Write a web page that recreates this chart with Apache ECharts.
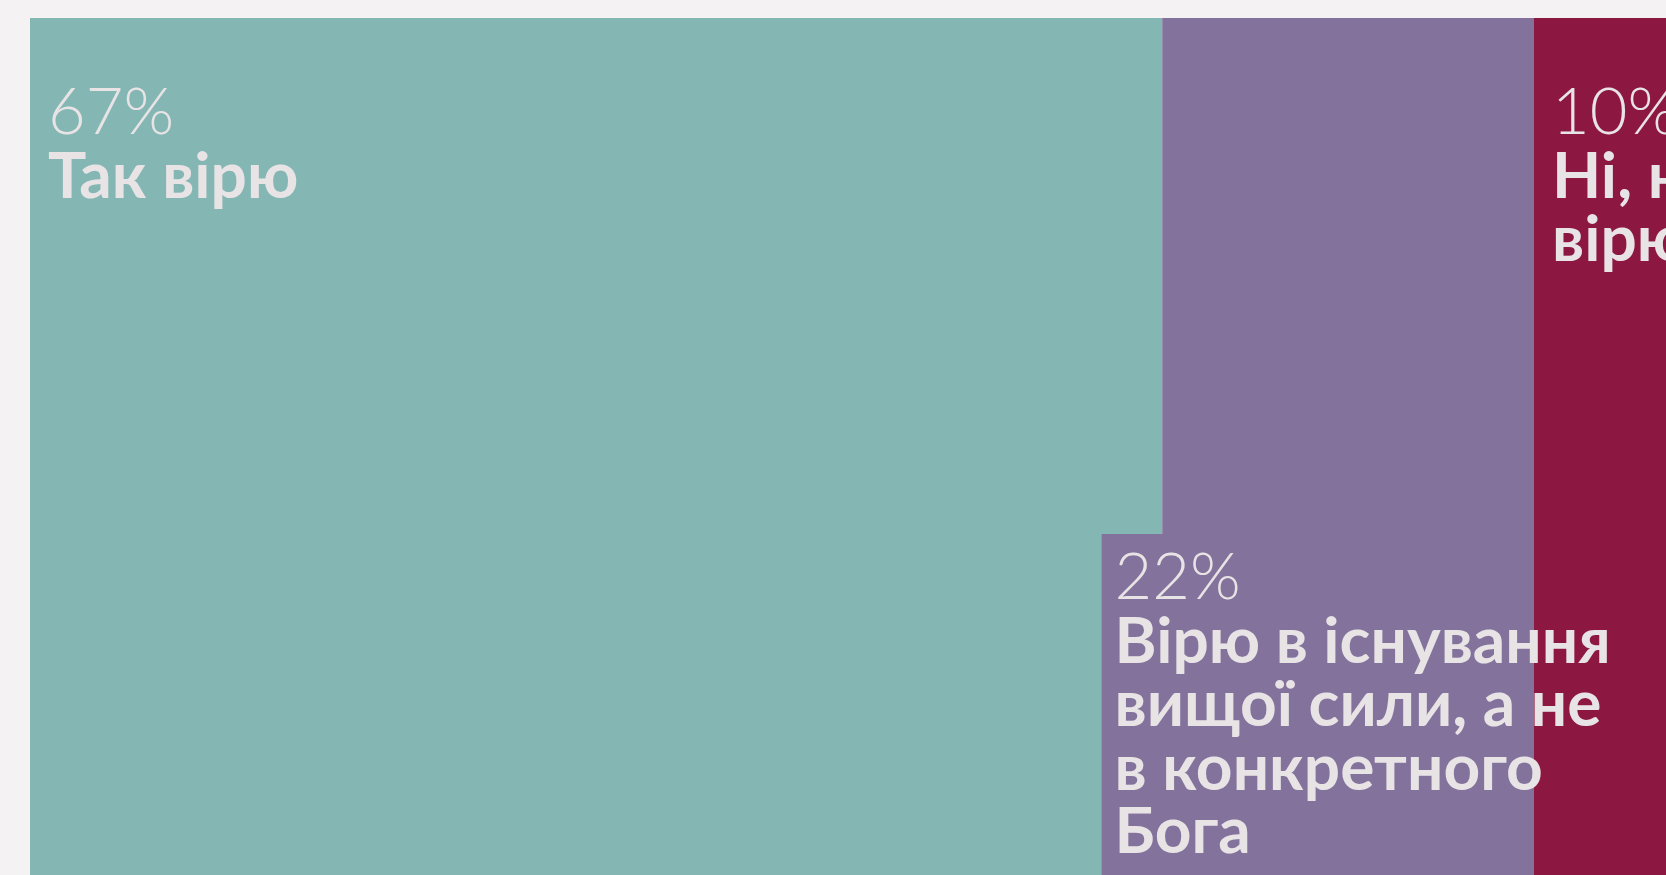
<!DOCTYPE html>
<html>
<head>
<meta charset="utf-8">
<title>Чи вірите ви в Бога</title>
<script src="https://cdn.jsdelivr.net/npm/echarts@6/dist/echarts.min.js"></script>
<style>
  html, body {
    margin: 0;
    padding: 0;
    overflow: hidden;
    background: #f4f2f3;
  }
  #chart {
    width: 1703px;
    height: 875px;
  }
</style>
</head>
<body>
<div id="chart"></div>
<script>
// відповіді та частки, %
const answers = ['Так вірю', 'Вірю в існування\nвищої сили, а не\nв конкретного\nБога', 'Ні, не\nвірю'];
const shares = [67, 22, 10];

const palette = ['#84b7b3', '#82729c', '#8c1740'];
const textColor = '#e8e3e5';
// де стоїть підпис: зверху плитки чи знизу на власній підкладці
const labelPlace = ['top', 'bottom', 'top'];

const total = shares.reduce((a, b) => a + b, 0);
let acc = 0;
const tiles = shares.map((v, i) => {
  const row = [acc, acc + v, v, i];
  acc += v;
  return row;
});

const chart = echarts.init(document.getElementById('chart'));

const FS = 64;        // розмір шрифту
const LH = 63.5;      // міжрядковий інтервал
const MID = 19.5;     // від середини рядка до базової лінії

function textBlock(x, baseline, idx) {
  return [
    {
      type: 'text',
      z2: 10,
      style: {
        text: shares[idx] + '%',
        x: x,
        y: baseline - MID,
        verticalAlign: 'middle',
        fontFamily: 'Lato',
        fontWeight: 300,
        fontSize: FS + 1,
        fill: textColor
      }
    },
    {
      type: 'text',
      z2: 10,
      style: {
        text: answers[idx],
        x: x,
        y: baseline + LH - MID - LH / 2,
        verticalAlign: 'top',
        lineHeight: LH,
        fontFamily: 'Lato',
        fontWeight: 700,
        fontSize: FS,
        fill: textColor
      }
    }
  ];
}

function renderItem(params, api) {
  const idx = api.value(3);
  const p0 = api.coord([api.value(0), 1]);
  const p1 = api.coord([api.value(1), 0]);
  const children = [
    {
      type: 'rect',
      z2: idx * 2,
      shape: { x: p0[0], y: p0[1], width: p1[0] - p0[0], height: p1[1] - p0[1] },
      style: { fill: palette[idx] }
    }
  ];

  if (labelPlace[idx] === 'bottom') {
    const cx = (p0[0] + p1[0]) / 2;
    const boxX = cx - 246.5;
    const boxY = p0[1] + 516;
    children.push({
      type: 'rect',
      z2: idx * 2,
      shape: { x: boxX, y: boxY, width: p1[0] - boxX, height: p1[1] - boxY },
      style: { fill: palette[idx] }
    });
    children.push.apply(children, textBlock(boxX + 13, boxY + 64, idx));
  } else {
    children.push.apply(children, textBlock(p0[0] + 18, p0[1] + 115, idx));
  }

  return { type: 'group', children: children };
}

const option = {
  animation: false,
  backgroundColor: '#f4f2f3',
  grid: { left: 30, right: 0, top: 18, bottom: 0 },
  xAxis: { type: 'value', min: 0, max: total, show: false },
  yAxis: { type: 'value', min: 0, max: 1, show: false },
  series: [
    {
      type: 'custom',
      renderItem: renderItem,
      encode: { x: [0, 1] },
      data: tiles
    }
  ]
};

chart.setOption(option);
</script>
</body>
</html>
